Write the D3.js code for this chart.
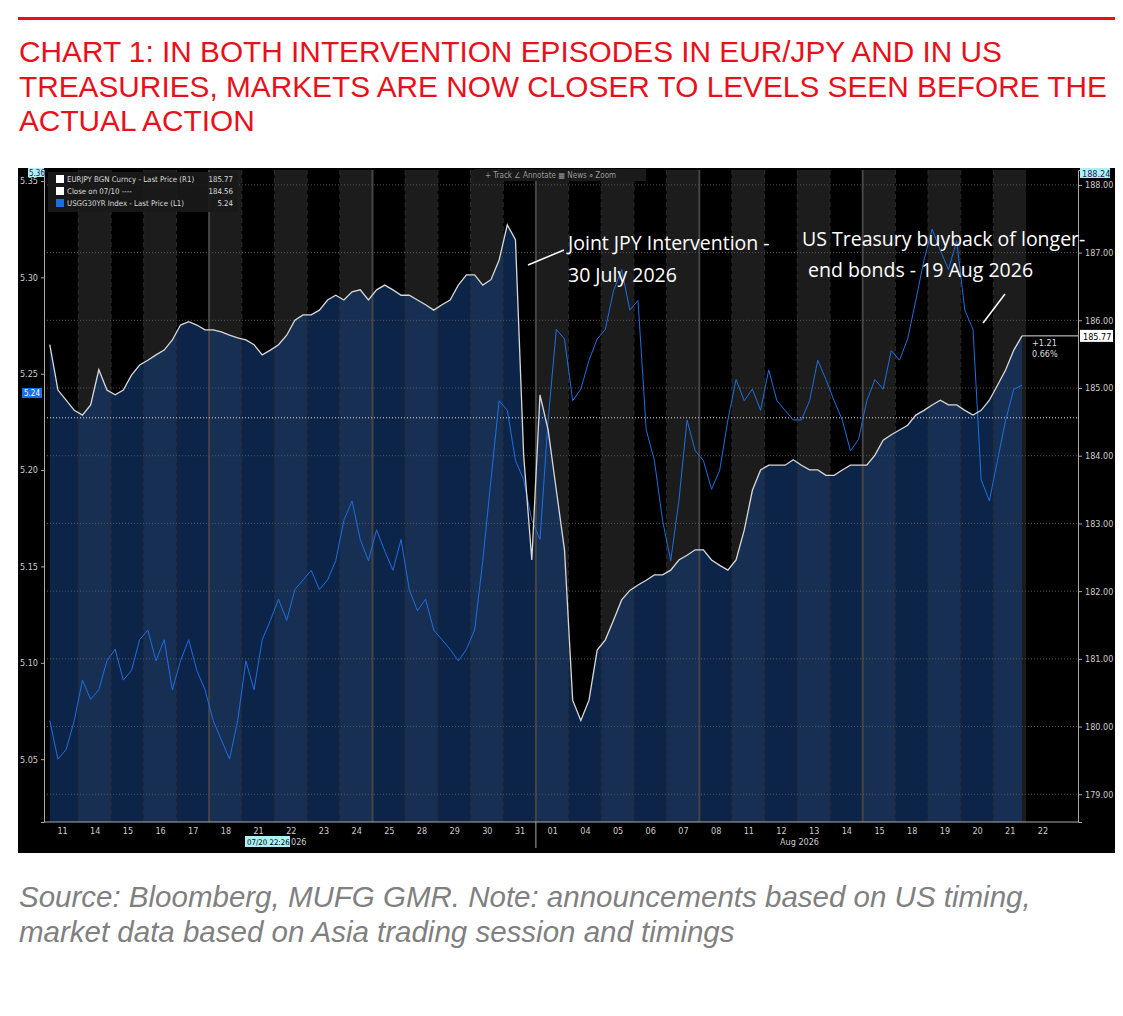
<!DOCTYPE html>
<html><head><meta charset="utf-8">
<script src="https://cdn.jsdelivr.net/npm/d3@7"></script>
<style>body{margin:0;background:#fff}svg{display:block}</style>
</head><body>
<svg id="chart" width="1123" height="1016"></svg>
<script>
// trading days shown on the x axis
const dayLabels = ["11","14","15","16","17","18","21","22","23","24","25","28","29","30","31",
  "01","04","05","06","07","08","11","12","13","14","15","18","19","20","21","22"];
// EURJPY, 4 readings per trading day (R1)
const eurjpy = [
  185.64,184.97,184.82,184.67, 184.60,184.75,185.27,184.97, 184.90,184.97,185.19,185.34,
  185.41,185.49,185.56,185.71, 185.93,185.98,185.93,185.86, 185.86,185.83,185.78,185.74,
  185.71,185.64,185.49,185.56, 185.64,185.78,186.00,186.08, 186.08,186.15,186.30,186.37,
  186.30,186.42,186.45,186.30, 186.45,186.52,186.45,186.37, 186.37,186.30,186.23,186.15,
  186.23,186.30,186.52,186.67, 186.67,186.52,186.60,186.89, 187.41,187.19,184.01,182.46,
  184.90,184.38,183.49,182.61, 180.39,180.09,180.39,181.13, 181.28,181.57,181.87,182.01,
  182.09,182.16,182.24,182.24, 182.31,182.46,182.53,182.61, 182.61,182.46,182.38,182.31,
  182.46,182.90,183.49,183.79, 183.86,183.86,183.86,183.94, 183.86,183.79,183.79,183.71,
  183.71,183.79,183.86,183.86, 183.86,184.01,184.23,184.31, 184.38,184.45,184.60,184.67,
  184.75,184.82,184.75,184.75, 184.67,184.60,184.67,184.82, 185.04,185.27,185.56,185.77
];
// USGG30YR yield, 4 readings per trading day (L1)
const ust30 = [
  5.070,5.050,5.055,5.070, 5.091,5.081,5.086,5.101, 5.107,5.091,5.096,5.112,
  5.117,5.101,5.112,5.086, 5.101,5.112,5.096,5.086, 5.070,5.060,5.050,5.070,
  5.101,5.086,5.112,5.122, 5.133,5.122,5.138,5.143, 5.148,5.138,5.143,5.153,
  5.174,5.184,5.164,5.153, 5.169,5.158,5.148,5.164, 5.138,5.127,5.133,5.117,
  5.112,5.107,5.101,5.107, 5.117,5.153,5.195,5.236, 5.231,5.205,5.195,5.174,
  5.164,5.226,5.273,5.268, 5.236,5.242,5.257,5.268, 5.273,5.293,5.304,5.283,
  5.288,5.221,5.205,5.174, 5.153,5.184,5.226,5.210, 5.205,5.190,5.200,5.226,
  5.247,5.236,5.242,5.231, 5.252,5.236,5.231,5.226, 5.226,5.236,5.257,5.247,
  5.236,5.226,5.210,5.216, 5.236,5.247,5.242,5.262, 5.257,5.268,5.288,5.309,
  5.325,5.314,5.304,5.319, 5.283,5.273,5.195,5.184, 5.205,5.226,5.242,5.244
];
const leftTicks = [5.05,5.10,5.15,5.20,5.25,5.30,5.35];
const rightTicks = [179,180,181,182,183,184,185,186,187,188];
const titleLines = ["CHART 1: IN BOTH INTERVENTION EPISODES IN EUR/JPY AND IN US",
  "TREASURIES, MARKETS ARE NOW CLOSER TO LEVELS SEEN BEFORE THE","ACTUAL ACTION"];
const sourceLines = ["Source: Bloomberg, MUFG GMR. Note: announcements based on US timing,",
  "market data based on Asia trading session and timings"];
const closeRef = 184.56;
const weekEnds = [5,10,15,20,25];   // index of first day of a new week

const svg = d3.select("#chart");
const ff = "Liberation Sans, Arial, sans-serif";
const bf = "DejaVu Sans Condensed, Liberation Sans Narrow, sans-serif";

// header
svg.append("rect").attr("x",18).attr("y",17).attr("width",1097).attr("height",3).attr("fill","#e8101a");
svg.selectAll(".title").data(titleLines).enter().append("text")
  .attr("x",19).attr("y",(d,i)=>62+i*34.5).attr("fill","#e8101a")
  .style("font-family",ff).style("font-size","29.8px").text(d=>d);
svg.selectAll(".src").data(sourceLines).enter().append("text")
  .attr("x",19).attr("y",(d,i)=>907+i*35).attr("fill","#808080")
  .style("font-family",ff).style("font-size","29.5px").style("font-style","italic").text(d=>d);

// panel
svg.append("rect").attr("x",18).attr("y",168).attr("width",1097).attr("height",685).attr("fill","#000");

const yTop = 170, yBot = 822, xLeft = 44, xRight = 1078;
const x = d3.scaleLinear().domain([0,31]).range([45.7,45.7+31*32.68]);
const yR = d3.scaleLinear().domain([178.59,188.22]).range([yBot,yTop]);
const yL = d3.scaleLinear().domain([5.0174,5.3557]).range([yBot,yTop]);
const px = i => x(Math.floor(i/4) + (i%4)/4 + 0.125);
const nDays = eurjpy.length/4;

const g = svg.append("g");
// day shading
g.selectAll(".band").data(d3.range(nDays)).enter().append("rect")
  .attr("x",d=>Math.max(xLeft,x(d))).attr("y",yTop).attr("width",d=>x(d+1)-Math.max(xLeft,x(d)))
  .attr("height",yBot-yTop).attr("fill",d=>d%2 ? "#1c1c1c" : "#000");
// area under EURJPY
g.append("path").datum(eurjpy)
  .attr("fill","rgba(22,62,125,0.58)")
  .attr("d",d3.area().x((d,i)=>px(i)).y0(yBot).y1(d=>yR(d)));
// day separators
g.selectAll(".sep").data(d3.range(1,nDays)).enter().append("line")
  .attr("x1",d=>x(d)).attr("x2",d=>x(d)).attr("y1",yTop).attr("y2",yBot)
  .attr("stroke",d=>weekEnds.includes(d)?"#444":"#2c2c2c").attr("stroke-width",d=>weekEnds.includes(d)?2:1)
  .attr("stroke-dasharray",d=>weekEnds.includes(d)?null:"5,3");
// horizontal grid
g.selectAll(".grid").data(rightTicks).enter().append("line")
  .attr("x1",xLeft).attr("x2",xRight).attr("y1",d=>yR(d)).attr("y2",d=>yR(d))
  .attr("stroke","#555").attr("stroke-dasharray","1,2");
g.append("line").attr("x1",xLeft).attr("x2",xRight).attr("y1",yR(closeRef)).attr("y2",yR(closeRef))
  .attr("stroke","#ddd").attr("stroke-dasharray","1,2");

// series
g.append("path").datum(ust30).attr("fill","none").attr("stroke","#1d6fe0").attr("stroke-width",1)
  .attr("d",d3.line().x((d,i)=>px(i)).y(d=>yL(d)));
g.append("path").datum(eurjpy).attr("fill","none").attr("stroke","#d8d8d8").attr("stroke-width",1.3)
  .attr("d",d3.line().x((d,i)=>px(i)).y(d=>yR(d)));

// axes
const axR = svg.append("g").attr("transform",`translate(${xRight},0)`)
  .call(d3.axisRight(yR).tickValues(rightTicks).tickFormat(d3.format(".2f")).tickSize(4));
const axL = svg.append("g").attr("transform",`translate(${xLeft},0)`)
  .call(d3.axisLeft(yL).tickValues(leftTicks).tickFormat(d3.format(".2f")).tickSize(3));
const axB = svg.append("g").attr("transform",`translate(0,${yBot})`)
  .call(d3.axisBottom(x).tickValues(d3.range(dayLabels.length).map(d=>d+0.5))
    .tickFormat((d,i)=>dayLabels[i]).tickSize(0).tickPadding(6));
[axR,axL,axB].forEach(a=>{
  a.select(".domain").attr("stroke","#aaa");
  a.selectAll("line").attr("stroke","#aaa");
  a.selectAll("text").attr("fill","#ccc").style("font-family",bf).style("font-size","9px");
});
axB.select(".domain").attr("d",`M${xLeft},0H${xRight}`);
svg.append("line").attr("x1",x(15)).attr("x2",x(15)).attr("y1",yBot).attr("y2",848).attr("stroke","#aaa");
svg.append("rect").attr("x",245).attr("y",836).attr("width",45).attr("height",11).attr("fill","#aef0f5");
svg.append("text").attr("x",247).attr("y",845).text("07/20 22:26").attr("fill","#000").style("font-family",bf).style("font-size","7.8px");
svg.append("text").attr("x",291).attr("y",845).text("026").attr("fill","#ccc").style("font-family",bf).style("font-size","9px");
svg.append("text").attr("x",780).attr("y",845).text("Aug 2026").attr("fill","#ccc").style("font-family",bf).style("font-size","9px");

// end-of-series markers
svg.append("line").attr("x1",px(eurjpy.length-1)).attr("x2",xRight).attr("y1",yR(185.77)).attr("y2",yR(185.77)).attr("stroke","#ddd");
svg.append("rect").attr("x",1080).attr("y",yR(185.77)-6).attr("width",33).attr("height",12).attr("fill","#fff");
svg.append("text").attr("x",1083).attr("y",yR(185.77)+4).text("185.77").attr("fill","#000").style("font-family",bf).style("font-size","9px");
svg.append("text").attr("x",1032).attr("y",346).text("+1.21").attr("fill","#ddd").style("font-family",bf).style("font-size","9px");
svg.append("text").attr("x",1032).attr("y",357).text("0.66%").attr("fill","#ddd").style("font-family",bf).style("font-size","9px");
svg.append("rect").attr("x",1080).attr("y",168).attr("width",30).attr("height",10).attr("fill","#aef0f5");
svg.append("text").attr("x",1082).attr("y",177).text("188.24").attr("fill","#225").style("font-family",bf).style("font-size","9px");
svg.append("rect").attr("x",28).attr("y",168).attr("width",16).attr("height",9).attr("fill","#aef0f5");
svg.append("text").attr("x",29).attr("y",176).text("5.36").attr("fill","#225").style("font-family",bf).style("font-size","8px");
svg.append("rect").attr("x",22).attr("y",yL(5.24)-5).attr("width",20).attr("height",10).attr("fill","#1d6fe0");
svg.append("text").attr("x",24).attr("y",yL(5.24)+3).text("5.24").attr("fill","#fff").style("font-family",bf).style("font-size","8px");

// legend
const lg = svg.append("g").attr("transform","translate(48,172)");
lg.append("rect").attr("width",190).attr("height",40).attr("fill","#1a1a1a").attr("opacity",0.9);
const legend = [["EURJPY BGN Curncy - Last Price (R1)","185.77","#fff"],["Close on 07/10 ----","184.56","#fff"],["USGG30YR Index - Last Price (L1)","5.24","#1d6fe0"]];
legend.forEach((d,i)=>{
  lg.append("rect").attr("x",8).attr("y",3+i*12).attr("width",8).attr("height",8).attr("fill",d[2]);
  lg.append("text").attr("x",19).attr("y",10+i*12).text(d[0]).attr("fill","#ddd").style("font-family",bf).style("font-size","7.8px");
  lg.append("text").attr("x",185).attr("y",10+i*12).attr("text-anchor","end").text(d[1]).attr("fill","#ddd").style("font-family",bf).style("font-size","7.8px");
});
// toolbar
svg.append("rect").attr("x",474).attr("y",169).attr("width",172).attr("height",12).attr("fill","#1a1a1a");
svg.append("text").attr("x",485).attr("y",178).text("+ Track   ∠ Annotate   ▦ News   ⌕ Zoom").attr("fill","#999").style("font-family",bf).style("font-size","8px");

// annotations
const ann = svg.append("g").style("font-family","Open Sans, DejaVu Sans, sans-serif").style("font-size","19.5px").attr("fill","#fff");
ann.append("text").attr("x",568).attr("y",250).text("Joint JPY Intervention -");
ann.append("text").attr("x",568).attr("y",282).text("30 July 2026");
ann.append("text").attr("x",802).attr("y",246).text("US Treasury buyback of longer-");
ann.append("text").attr("x",808).attr("y",277).text("end bonds - 19 Aug 2026");
svg.append("line").attr("x1",528).attr("y1",265).attr("x2",564).attr("y2",250).attr("stroke","#fff").attr("stroke-width",1.5);
svg.append("line").attr("x1",983).attr("y1",323).attr("x2",1005).attr("y2",294).attr("stroke","#fff").attr("stroke-width",1.5);
</script>
</body></html>
